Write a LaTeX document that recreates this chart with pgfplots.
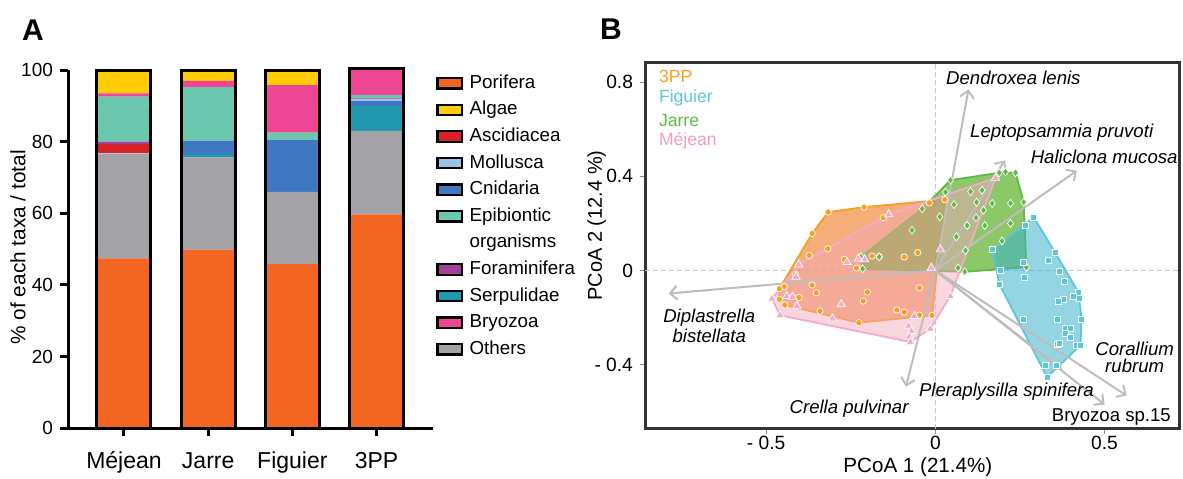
\documentclass[border=0pt]{standalone}
\usepackage{pgfplots}
\pgfplotsset{compat=1.18}
\usepackage{fontspec}
\setmainfont{Liberation Sans}
\setsansfont{Liberation Sans}
\usetikzlibrary{arrows.meta}

% panel A colours
\definecolor{porifera}{HTML}{F26522}
\definecolor{algae}{HTML}{FFCC05}
\definecolor{ascidiacea}{HTML}{D7222A}
\definecolor{mollusca}{HTML}{9DC3E6}
\definecolor{cnidaria}{HTML}{3F78C1}
\definecolor{epibiontic}{HTML}{6CC7AF}
\definecolor{foraminifera}{HTML}{A0419A}
\definecolor{serpulidae}{HTML}{2298B0}
\definecolor{bryozoa}{HTML}{EE4595}
\definecolor{others}{HTML}{A3A3A7}
% panel B colours
\definecolor{l3pp}{HTML}{F7A01E}
\definecolor{f3pp}{RGB}{240,120,30}
\definecolor{lfig}{HTML}{5AC8DC}
\definecolor{ffig}{RGB}{59,179,204}
\definecolor{ljar}{HTML}{5FB946}
\definecolor{fjar}{RGB}{80,170,23}
\definecolor{lmej}{HTML}{F4AAC8}
\definecolor{fmej}{RGB}{242,166,185}
\definecolor{tmej}{HTML}{F39BC0}
\definecolor{vecgray}{HTML}{BDBDBD}

\newcommand\fsz[2]{\fontsize{#1}{#2}\selectfont}

\begin{document}
\begin{tikzpicture}
\useasboundingbox (0,0) rectangle (591.5pt,239pt);

\node[font=\bfseries\fsz{15}{15}] at (16.5pt,224pt) {A};
\node[font=\bfseries\fsz{15}{15}] at (305.5pt,224.6pt) {B};

%---------------- A: composition of taxa per site
\begin{axis}[
  at={(34pt,24.85pt)}, anchor=south west,
  scale only axis, width=182.5pt, height=179.15pt,
  ybar stacked, bar width=27pt,
  xmin=-0.665, xmax=3.67, ymin=0, ymax=100,
  axis lines=left,
  axis line style={line width=1.5pt, -},
  xtick={0,1,2,3}, xticklabels={Méjean,Jarre,Figuier,3PP},
  ytick={0,20,...,100},
  tick align=outside, major tick length=4pt,
  tick style={line width=1.5pt, black},
  /pgf/number format/assume math mode=true,
  xticklabel style={font=\fsz{11.5}{12}, text height=8.5pt, text depth=2.5pt, yshift=-4pt},
  yticklabel style={font=\fsz{9.5}{10}},
  ylabel={\% of each taxa / total},
  ylabel style={font=\fsz{10.4}{11}, at={(rel axis cs:-0.137,0.505)}, anchor=center},
  clip=false,
  legend cell align=left,
  legend style={draw=none, fill=none, at={(rel axis cs:1,1)}, anchor=north west,
    xshift=-1.5pt, yshift=0pt, font=\fsz{9.4}{10}, row sep=4.4pt,
    nodes={inner sep=0pt, text height=6.9pt, text depth=2pt},
    /tikz/every odd column/.append style={column sep=3.2pt}},
  legend image code/.code={\draw[#1, draw=black, line width=1.1pt] (0pt,-2.6pt) rectangle (12.3pt,2.6pt);},
]
\addplot[fill=porifera, draw=none, forget plot] coordinates {(0,47.4) (1,49.9) (2,45.8) (3,59.7)};
\addplot[fill=others, draw=none, forget plot] coordinates {(0,29.3) (1,25.7) (2,20.2) (3,23.3)};
\addplot[fill=serpulidae, draw=none, forget plot] coordinates {(0,0) (1,0.9) (2,0) (3,7.0)};
\addplot[fill=ascidiacea, draw=none, forget plot] coordinates {(0,2.6) (1,0) (2,0) (3,0)};
\addplot[fill=cnidaria, draw=none, forget plot] coordinates {(0,0) (1,3.8) (2,14.6) (3,1.3)};
\addplot[fill=mollusca, draw=none, forget plot] coordinates {(0,0) (1,0) (2,0) (3,0.5)};
\addplot[fill=foraminifera, draw=none, forget plot] coordinates {(0,0.7) (1,0) (2,0) (3,0.3)};
\addplot[fill=epibiontic, draw=none, forget plot] coordinates {(0,12.6) (1,14.9) (2,1.9) (3,0.9)};
\addplot[fill=bryozoa, draw=none, forget plot] coordinates {(0,0.9) (1,1.8) (2,13.3) (3,7.0)};
\addplot[fill=algae, draw=none, forget plot] coordinates {(0,6.5) (1,3.0) (2,4.2) (3,0.3)};

\addlegendimage{fill=porifera}
\addlegendimage{fill=algae}
\addlegendimage{fill=ascidiacea}
\addlegendimage{fill=mollusca}
\addlegendimage{fill=cnidaria}
\addlegendimage{fill=epibiontic}
\addlegendimage{empty legend}
\addlegendimage{fill=foraminifera}
\addlegendimage{fill=serpulidae}
\addlegendimage{fill=bryozoa}
\addlegendimage{fill=others}
\legend{Porifera, Algae, Ascidiacea, Mollusca, Cnidaria, Epibiontic, organisms,
  Foraminifera, Serpulidae, Bryozoa, Others}

\node[font=\fsz{11.2}{13.25}, align=center] at (axis cs:0,22.7) {48\%\\(24)};
\node[font=\fsz{11.2}{13.25}, align=center] at (axis cs:1,22.0) {50\%\\(26)};
\node[font=\fsz{11.2}{13.25}, align=center] at (axis cs:2,21.2) {46\%\\(36)};
\node[font=\fsz{11.2}{13.25}, align=center] at (axis cs:3,32.05) {59\%\\(37)};
\node[font=\fsz{11.2}{13.25}] at (axis cs:0,85.8) {13\%};
\node[font=\fsz{11.2}{13.25}] at (axis cs:1,87.4) {15\%};
\node[font=\fsz{11.2}{13.25}, text=white] at (axis cs:2,88.8) {13\%};
\node[font=\fsz{11.2}{13.25}, text=white] at (axis cs:2,73.2) {14\%};
\end{axis}

% black outline of every bar
\begin{axis}[
  at={(34pt,24.85pt)}, anchor=south west,
  scale only axis, width=182.5pt, height=179.15pt,
  xmin=-0.665, xmax=3.67, ymin=0, ymax=100,
  hide axis, clip=false, ybar, bar width=27pt,
]
\addplot[draw=black, fill=none, line width=1.5pt] coordinates {(0,100) (1,100) (2,100) (3,100.3)};
\end{axis}

%---------------- B: PCoA
\begin{axis}[
  at={(322.5pt,24.75pt)}, anchor=south west,
  scale only axis, width=267pt, height=182.9pt,
  xmin=-0.858, xmax=0.72, ymin=-0.672, ymax=0.883,
  axis line style={line width=1.5pt, black!80},
  tick pos=left, tick align=outside, major tick length=2.5pt,
  tick style={black!45, line width=0.6pt},
  xtick={-0.5,0,0.5}, xticklabels={- 0.5,0,0.5},
  ytick={-0.4,0,0.4,0.8}, yticklabels={- 0.4,0,0.4,0.8},
  ticklabel style={font=\fsz{9.6}{10}},
  xticklabel style={text height=7pt, text depth=0pt, yshift=2.5pt},
  extra x ticks={0}, extra x tick labels={},
  extra y ticks={0}, extra y tick labels={},
  extra x tick style={grid=major, major tick length=0pt},
  extra y tick style={grid=major, major tick length=0pt},
  major grid style={dash pattern=on 2.5pt off 1.5pt, black!22, line width=0.4pt},
  xlabel={PCoA 1 (21.4\%)}, ylabel={PCoA 2 (12.4 \%)},
  xlabel style={font=\fsz{10.3}{11}, at={(rel axis cs:0.511,-0.105)}, anchor=center},
  ylabel style={font=\fsz{10}{11}, at={(rel axis cs:-0.0904,0.555)}, anchor=center},
  clip=false,
  hull/.style={line width=0.9pt},
  biplot/.style={draw=vecgray, line width=1pt, -{Straight Barb[length=3.5pt,width=7pt]}},
]
% convex hulls
\addplot[hull, draw=l3pp, fill=f3pp, fill opacity=0.6] coordinates {
  (0.028,0.301) (-0.010,-0.191) (-0.226,-0.222) (-0.445,-0.147) (-0.461,-0.123)
  (-0.461,-0.078) (-0.364,0.157) (-0.317,0.248) (-0.211,0.269)} --cycle;
\addplot[hull, draw=ljar, fill=fjar, fill opacity=0.65] coordinates {
  (-0.220,0.058) (-0.039,0.262) (0.045,0.384) (0.189,0.415) (0.237,0.415)
  (0.261,0.290) (0.269,0.014) (0.087,-0.006) (-0.215,0.007)} --cycle;
\addplot[hull, draw=lmej, fill=fmej, fill opacity=0.47] coordinates {
  (0.178,0.393) (0.044,-0.109) (-0.015,-0.248) (-0.074,-0.304) (-0.459,-0.191)
  (-0.483,-0.120) (-0.404,0.025) (-0.138,0.238)} --cycle;
\addplot[hull, draw=lfig, fill=ffig, fill opacity=0.55] coordinates {
  (0.291,0.226) (0.354,0.076) (0.423,-0.093) (0.432,-0.207) (0.429,-0.318)
  (0.330,-0.454) (0.189,-0.058) (0.168,0.088)} --cycle;

% species vectors
\addplot[biplot] coordinates {(0,0) (0.098,0.770)};
\addplot[biplot] coordinates {(0,0) (0.205,0.468)};
\addplot[biplot] coordinates {(0,0) (0.418,0.424)};
\addplot[biplot] coordinates {(0,0) (-0.788,-0.098)};
\addplot[biplot] coordinates {(0,0) (-0.087,-0.494)};
\addplot[biplot] coordinates {(0,0) (0.373,-0.420)};
\addplot[biplot] coordinates {(0,0) (0.500,-0.570)};
\addplot[biplot] coordinates {(0,0) (0.565,-0.532)};

% samples
\addplot[only marks, mark=*, mark size=1.6pt, mark options={fill=l3pp, draw=white, line width=0.35pt}] coordinates {
  (-0.317,0.248) (-0.211,0.269) (-0.018,0.287) (0.028,0.301) (-0.154,0.224) (-0.364,0.157)
  (-0.318,0.092) (-0.373,0.064) (-0.269,0.047) (-0.233,0.010) (-0.187,0.061) (-0.166,0.059)
  (-0.092,0.057) (-0.052,0.076) (-0.413,-0.017) (-0.447,-0.069) (-0.461,-0.078) (-0.364,-0.062)
  (-0.352,-0.095) (-0.201,-0.092) (-0.213,-0.130) (-0.047,-0.074) (-0.461,-0.123) (-0.403,-0.115)
  (-0.445,-0.147) (-0.341,-0.173) (-0.226,-0.222) (-0.114,-0.168) (-0.092,-0.177) (-0.047,-0.190)
  (-0.010,-0.191)};
\addplot[only marks, mark=diamond*, mark size=2pt, mark options={fill=ljar, draw=white, line width=0.35pt}] coordinates {
  (0.189,0.415) (0.207,0.419) (0.237,0.415) (0.030,0.333) (0.104,0.335) (0.138,0.341)
  (-0.039,0.262) (0.013,0.228) (0.055,0.280) (0.122,0.290) (0.168,0.285) (0.222,0.285)
  (0.261,0.290) (-0.069,0.171) (0.094,0.191) (0.120,0.224) (0.142,0.256) (0.146,0.191)
  (0.222,0.200) (0.062,0.143) (0.197,0.125) (0.089,0.085) (-0.220,0.058) (-0.166,0.058)
  (-0.215,0.007) (0.067,0.011) (0.087,-0.006) (0.269,0.014) (0.045,0.384)};
\addplot[only marks, mark=triangle*, mark size=2.4pt, mark options={fill=lmej, draw=white, line width=0.35pt}] coordinates {
  (0.178,0.393) (-0.138,0.238) (0.015,0.089) (-0.012,0.011) (-0.404,0.025) (-0.412,-0.027)
  (-0.227,0.050) (-0.209,0.047) (-0.261,0.035) (-0.483,-0.120) (-0.439,-0.109) (-0.422,-0.112)
  (-0.409,-0.151) (-0.459,-0.191) (-0.278,-0.144) (-0.304,-0.205) (-0.062,-0.194) (-0.079,-0.236)
  (-0.071,-0.258) (-0.077,-0.282) (-0.074,-0.304) (-0.015,-0.248) (0.044,-0.109)};
\addplot[only marks, mark=square*, mark size=1.5pt, mark options={fill=lfig, draw=white, line width=0.35pt}] coordinates {
  (0.291,0.226) (0.265,0.190) (0.168,0.088) (0.354,0.076) (0.333,0.042) (0.260,0.034)
  (0.192,-0.001) (0.365,-0.004) (0.263,-0.030) (0.382,-0.047) (0.189,-0.058) (0.423,-0.093)
  (0.408,-0.110) (0.426,-0.120) (0.379,-0.125) (0.364,-0.132) (0.261,-0.207) (0.360,-0.207)
  (0.432,-0.207) (0.385,-0.248) (0.399,-0.245) (0.384,-0.266) (0.399,-0.283) (0.359,-0.316)
  (0.365,-0.311) (0.416,-0.318) (0.429,-0.318) (0.325,-0.405) (0.357,-0.405) (0.330,-0.454)};

% site names
\node[anchor=west, font=\fsz{8.8}{9}, text=l3pp] at (rel axis cs:0.013,0.962) {3PP};
\node[anchor=west, font=\fsz{8.8}{9}, text=lfig] at (rel axis cs:0.013,0.903) {Figuier};
\node[anchor=west, font=\fsz{8.8}{9}, text=ljar] at (rel axis cs:0.013,0.842) {Jarre};
\node[anchor=west, font=\fsz{8.8}{9}, text=tmej] at (rel axis cs:0.013,0.787) {Méjean};

% species names
\node[anchor=west, font=\itshape\fsz{9.3}{8.5}] at (axis cs:0.011,0.817) {Dendroxea lenis};
\node[anchor=west, font=\itshape\fsz{9.3}{8.5}] at (axis cs:0.082,0.587) {Leptopsammia pruvoti};
\node[anchor=west, font=\itshape\fsz{9.3}{8.5}] at (axis cs:0.261,0.482) {Haliclona mucosa};
\node[align=center, font=\itshape\fsz{9.3}{8.5}] at (axis cs:-0.668,-0.235) {Diplastrella\\bistellata};
\node[font=\itshape\fsz{9.3}{8.5}] at (axis cs:-0.255,-0.587) {Crella pulvinar};
\node[font=\itshape\fsz{9.3}{8.5}] at (axis cs:0.210,-0.515) {Pleraplysilla spinifera};
\node[align=center, font=\itshape\fsz{9.3}{8.5}] at (axis cs:0.589,-0.371) {Corallium\\rubrum};
\node[font=\fsz{9.3}{8.5}] at (axis cs:0.520,-0.623) {Bryozoa sp.15};
\end{axis}
\end{tikzpicture}
\end{document}
